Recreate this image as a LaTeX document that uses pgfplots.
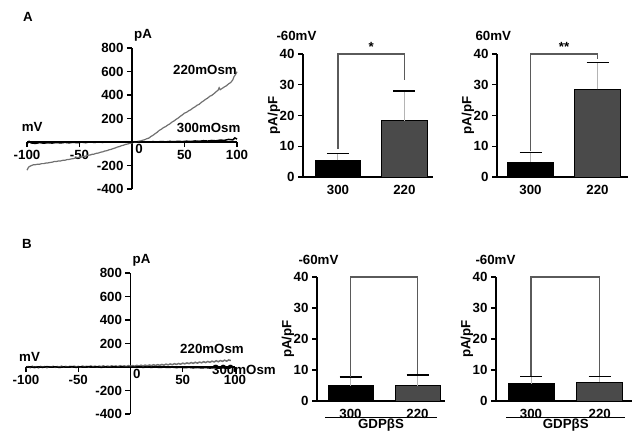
\documentclass[border=0pt]{standalone}
\usepackage{fontspec}
\setmainfont{Liberation Sans}[BoldFont={Liberation Sans Bold}]
\usepackage{pgfplots}
\pgfplotsset{compat=1.18}

\definecolor{trace}{HTML}{707070}
\definecolor{bargray}{HTML}{4A4A4A}
\definecolor{brk}{HTML}{5A5A5A}
\definecolor{whisk}{HTML}{B4B4B4}

\newcommand{\lab}{\fontsize{13.3bp}{15bp}\selectfont\bfseries}

\pgfplotsset{
  ivaxis/.style={
    scale only axis, anchor=south west, clip=false,
    width=210bp, height=141bp,
    xmin=-100, xmax=100, ymin=-400, ymax=800,
    axis x line=middle, axis y line=middle,
    axis line style={-, line width=1.4bp, black},
    xtick={-100,-50,50,100}, xticklabels={-100,-50,50,100},
    ytick={-400,-200,200,400,600,800},
    yticklabels={-400,-200,200,400,600,800},
    tick align=outside, major tick length=5bp,
    tick style={line width=1.2bp, black},
    tick label style={font=\lab},
  },
  baraxis/.style={
    scale only axis, anchor=south west, clip=false,
    ymin=0, ymax=40,
    axis x line=bottom, axis y line=left,
    axis line style={-, line width=1.2bp, black},
    ytick={0,10,20,30,40}, yticklabels={0,10,20,30,40},
    xtick={0,1}, xticklabels={300,220},
    x tick style={draw=none},
    y tick style={line width=1.2bp, black},
    tick align=outside, major tick length=5bp,
    tick label style={font=\lab},
    ylabel={pA/pF},
    ylabel style={font=\lab, at={([xshift=-29bp]axis description cs:0,0.5)}, anchor=center},
  },
  errs/.style={
    error bars/y dir=plus, error bars/y explicit,
    error bars/error bar style={whisk, line width=1bp},
    error bars/error mark options={black, rotate=90, line width=1.3bp, mark size=11bp}},
  bar300/.style={ybar, bar shift=0pt, fill=black, draw=black, line width=0.8bp, errs},
  bar220/.style={ybar, bar shift=0pt, fill=bargray, draw=black, line width=0.8bp, errs},
  bracket/.style={brk, line width=1.3bp, mark=none},
}

\begin{document}
\begin{tikzpicture}
\path[use as bounding box] (0,0) rectangle (636bp,-432bp);

\node[font=\lab] at (28bp,-17bp) {A};
\node[font=\lab] at (27bp,-244bp) {B};

% ---------- A: I-V ----------
\begin{axis}[ivaxis, at={(27bp,-189bp)}]
  \addplot[trace, line width=1.2bp, mark=none] coordinates {
    (-100,-240) (-99,-222) (-98,-210) (-96,-201) (-94,-194) (-92,-193) (-90,-189)
    (-88,-189) (-86,-184) (-84,-184) (-82,-179) (-80,-178) (-78,-174) (-76,-172)
    (-74,-166) (-72,-166) (-70,-161) (-68,-161) (-66,-156) (-64,-156) (-62,-150)
    (-60,-149) (-58,-144) (-56,-142) (-54,-136) (-52,-133) (-50,-129) (-48,-127)
    (-46,-122) (-44,-120) (-42,-113) (-40,-111) (-38,-105) (-36,-103) (-34,-96)
    (-32,-94) (-30,-87) (-28,-84) (-26,-77) (-24,-74) (-22,-67) (-20,-63)
    (-18,-56) (-16,-51) (-14,-43) (-12,-39) (-10,-31) (-8,-27) (-6,-20)
    (-4,-17) (-2,-11) (0,-8) (2,-2) (4,1) (6,7) (8,9) (10,15) (12,19)
    (14,28) (16,33) (18,47) (20,57) (22,71) (24,83) (26,99) (28,109)
    (30,123) (32,131) (34,144) (36,154) (38,169) (40,179) (42,193) (44,204)
    (46,219) (48,231) (50,246) (52,253) (54,266) (56,275) (58,289) (60,299)
    (62,313) (64,321) (66,337) (68,349) (70,363) (72,373) (74,389) (76,397)
    (78,411) (80,427) (82,441) (83,462) (84,445) (86,457) (88,469) (90,479)
    (92,495) (94,506) (96,529) (97,553) (98,567) (99,581) (100,598)
  };
  \addplot[black, line width=1.5bp, mark=none] coordinates {
    (-100,-15) (-98,5) (-96,-8) (-92,-12) (-88,-5) (-84,-10) (-80,-6) (-76,-9)
    (-72,-4) (-68,-8) (-64,-3) (-60,-7) (-56,-2) (-52,-6) (-48,-1) (-44,-5)
    (-40,2) (-36,-4) (-32,1) (-28,-3) (-24,2) (-20,-2) (-16,1) (-12,-2)
    (-8,0) (-4,-2) (0,-1) (4,1) (8,-2) (12,2) (16,-1) (20,3) (24,0) (28,4)
    (32,1) (36,5) (40,2) (44,6) (48,3) (52,7) (56,4) (60,9) (64,6) (68,11)
    (72,8) (76,13) (80,10) (84,16) (88,14) (92,22) (96,18) (98,35) (100,25)
  };
  \node[font=\lab, anchor=south west, inner sep=0pt] at ([xshift=2bp,yshift=7bp]axis cs:0,800) {pA};
  \node[font=\lab] at (axis cs:-95,128) {mV};
  \node[font=\lab] at (axis cs:6.7,-60) {0};
  \node[font=\lab] at (axis cs:69.5,613) {220mOsm};
  \node[font=\lab] at (axis cs:73,119) {300mOsm};
\end{axis}

% ---------- A: -60 mV ----------
\begin{axis}[baraxis, at={(303bp,-177bp)}, width=130bp, height=123bp,
    xmin=-0.526, xmax=1.43]
  \addplot[bar width=0.69, bar300] coordinates {(0,5.5) +- (0,2.2)};
  \addplot[bar width=0.69, bar220] coordinates {(1,18.3) +- (0,9.7)};
  \addplot[bracket] coordinates {(0,9.1) (0,40) (1,40) (1,31.5)};
  \node[font=\lab, anchor=south, inner sep=2bp] at (axis cs:0.5,40) {*};
  \node[font=\lab, anchor=west] at ([xshift=-30bp,yshift=18bp]axis description cs:0,1) {-60mV};
\end{axis}

% ---------- A: 60 mV ----------
\begin{axis}[baraxis, at={(497bp,-177bp)}, width=130.7bp, height=123bp,
    xmin=-0.5, xmax=1.45]
  \addplot[bar width=0.68, bar300] coordinates {(0,4.9) +- (0,3.1)};
  \addplot[bar width=0.68, bar220] coordinates {(1,28.5) +- (0,8.7)};
  \addplot[bracket] coordinates {(0,8.3) (0,40) (1,40) (1,38.3)};
  \node[font=\lab, anchor=south, inner sep=2bp] at (axis cs:0.5,40) {**};
  \node[font=\lab, anchor=west] at ([xshift=-25bp,yshift=18bp]axis description cs:0,1) {60mV};
\end{axis}

% ---------- B: I-V ----------
\begin{axis}[ivaxis, at={(26bp,-414bp)}, width=209bp]
  \addplot[trace, line width=1.5bp, mark=none] coordinates {
    (-100,-8) (-98,4) (-96,-6) (-94,6) (-92,-4) (-90,2) (-88,-7) (-86,5)
    (-84,-3) (-82,4) (-80,-6) (-78,3) (-76,-2) (-74,6) (-72,-3) (-70,4)
    (-68,-2) (-66,7) (-64,0) (-62,5) (-60,-1) (-58,6) (-56,0) (-54,7)
    (-52,1) (-50,5) (-48,-1) (-46,8) (-44,2) (-42,6) (-40,0) (-38,9)
    (-36,2) (-34,7) (-32,1) (-30,8) (-28,3) (-26,10) (-24,2) (-22,8)
    (-20,3) (-18,10) (-16,4) (-14,9) (-12,3) (-10,11) (-8,5) (-6,10)
    (-4,4) (-2,12) (0,6) (2,12) (4,7) (6,14) (8,8) (10,15) (12,9) (14,16)
    (16,10) (18,17) (20,12) (22,19) (24,13) (26,20) (28,14) (30,22)
    (32,16) (34,24) (36,18) (38,26) (40,20) (42,28) (44,22) (46,30)
    (48,24) (50,33) (52,27) (54,35) (56,29) (58,38) (60,31) (62,40)
    (64,33) (66,42) (68,36) (70,45) (72,38) (74,47) (76,40) (78,50)
    (80,43) (82,53) (84,45) (86,55) (88,48) (90,58) (92,50) (94,60) (96,55)
  };
  \addplot[black, line width=1.5bp, mark=none] coordinates {
    (-100,-3) (-96,2) (-92,-4) (-88,1) (-84,-3) (-80,3) (-76,-2) (-72,2)
    (-68,-4) (-64,1) (-60,-2) (-56,3) (-52,-3) (-48,2) (-44,-2) (-40,3)
    (-36,-1) (-32,2) (-28,-3) (-24,1) (-20,-2) (-16,2) (-12,-1) (-8,1)
    (-4,-2) (0,0) (4,-2) (8,1) (12,-3) (16,0) (20,-3) (24,0) (28,-4)
    (32,-1) (36,-4) (40,-1) (44,-5) (48,-2) (52,-6) (56,-3) (60,-7)
    (64,-4) (68,-8) (72,-5) (76,-9) (80,-6) (84,-10) (88,-7) (92,-10) (96,-8)
  };
  \node[font=\lab, anchor=south west, inner sep=0pt] at ([xshift=2bp,yshift=7bp]axis cs:0,800) {pA};
  \node[font=\lab] at (axis cs:-96.6,85) {mV};
  \node[font=\lab] at (axis cs:6,-60) {0};
  \node[font=\lab] at (axis cs:78,153) {220mOsm};
  \node[font=\lab] at (axis cs:108.6,-25) {300mOsm};
\end{axis}

% ---------- B: -60 mV (1) ----------
\begin{axis}[baraxis, at={(317bp,-401bp)}, width=128bp, height=124bp,
    xmin=-0.5, xmax=1.41]
  \addplot[bar width=0.67, bar300] coordinates {(0,4.9) +- (0,2.8)};
  \addplot[bar width=0.67, bar220] coordinates {(1,4.9) +- (0,3.5)};
  \addplot[bracket] coordinates {(0,7.9) (0,40) (1,40) (1,8.6)};
  \node[font=\lab, anchor=west] at ([xshift=-22bp,yshift=17bp]axis description cs:0,1) {-60mV};
  \draw[black, line width=0.9bp] ([yshift=-16bp]axis cs:-0.38,0) -- ([yshift=-16bp]axis cs:1.29,0)
    node[midway, below=0.5bp, font=\lab, inner sep=0.5bp] {GDPβS};
\end{axis}

% ---------- B: -60 mV (2) ----------
\begin{axis}[baraxis, at={(496bp,-401bp)}, width=136bp, height=124bp,
    xmin=-0.51, xmax=1.47]
  \addplot[bar width=0.67, bar300] coordinates {(0,5.6) +- (0,2.2)};
  \addplot[bar width=0.67, bar220] coordinates {(1,6.1) +- (0,1.9)};
  \addplot[bracket] coordinates {(0,8.0) (0,40) (1,40) (1,8.2)};
  \node[font=\lab, anchor=west] at ([xshift=-24bp,yshift=17bp]axis description cs:0,1) {-60mV};
  \draw[black, line width=0.9bp] ([yshift=-16bp]axis cs:-0.36,0) -- ([yshift=-16bp]axis cs:1.37,0)
    node[midway, below=0.5bp, font=\lab, inner sep=0.5bp] {GDPβS};
\end{axis}
\end{tikzpicture}
\end{document}
